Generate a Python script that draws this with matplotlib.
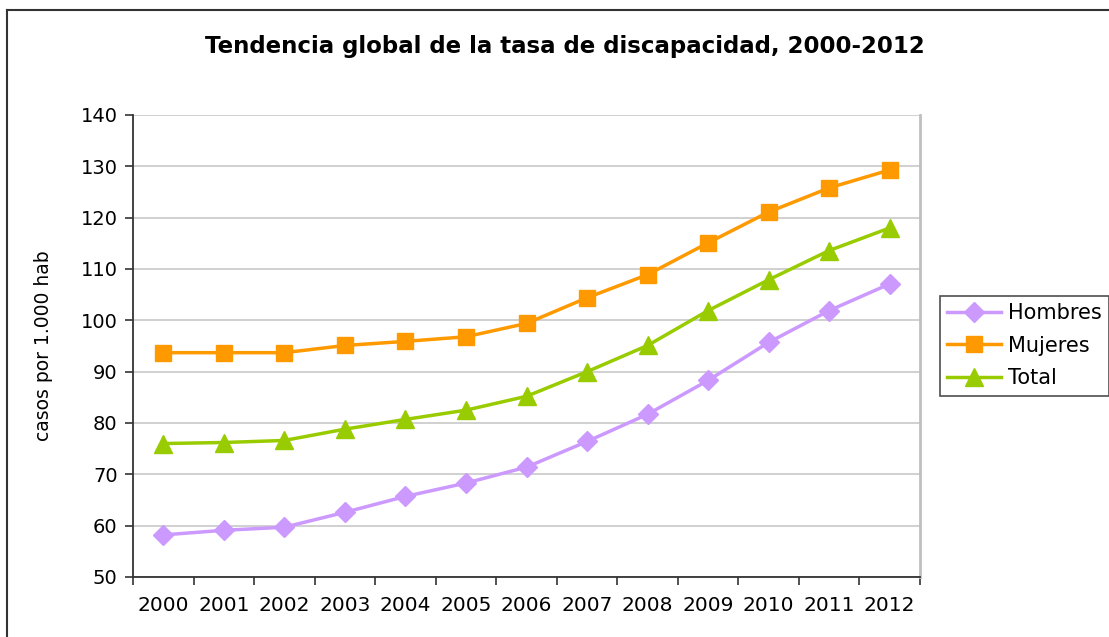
import matplotlib
matplotlib.use("Agg")
import matplotlib.pyplot as plt
from matplotlib.lines import Line2D

years = ["2000", "2001", "2002", "2003", "2004", "2005", "2006",
         "2007", "2008", "2009", "2010", "2011", "2012"]
hombres = [58.2, 59.1, 59.7, 62.6, 65.7, 68.3, 71.4, 76.4, 81.7, 88.3, 95.7, 101.9, 107.1]
mujeres = [93.7, 93.7, 93.7, 95.1, 95.9, 96.8, 99.4, 104.4, 108.9, 115.1, 121.1, 125.8, 129.3]
total = [76.0, 76.2, 76.6, 78.8, 80.7, 82.5, 85.2, 90.0, 95.1, 101.9, 107.9, 113.6, 118.0]
yticks = [50, 60, 70, 80, 90, 100, 110, 120, 130, 140]

plt.rcParams['font.family'] = ['DejaVu Sans']

W, H = 1109, 637
fig = plt.figure(figsize=(W / 100, H / 100), dpi=100)
ax = fig.add_axes([133 / W, 1 - 577 / H, (920 - 133) / W, (577 - 115) / H])

x = list(range(len(years)))
ax.plot(x, hombres, color='#cc99ff', lw=2.5, marker='D', ms=10, mec='#cc99ff', label='Hombres', zorder=3)
ax.plot(x, mujeres, color='#ff9900', lw=2.5, marker='s', ms=11, mec='#ff9900', label='Mujeres', zorder=3)
ax.plot(x, total, color='#99cc00', lw=2.5, marker='^', ms=13, mec='#99cc00', label='Total', zorder=3)

ax.set_xlim(-0.5, len(years) - 0.5)
ax.set_ylim(50, 140)
ax.set_yticks(yticks)
ax.set_yticklabels([str(v) for v in yticks], fontsize=14)
ax.set_xticks([i - 0.5 for i in range(len(years) + 1)], minor=False)
ax.set_xticklabels([])
ax.set_xticks(x, minor=True)
ax.set_xticklabels(years, minor=True, fontsize=14.5)
ax.tick_params(axis='x', which='minor', length=0, pad=14)
ax.tick_params(axis='x', which='major', length=6, direction='out', color='#333333', width=1.2)
ax.tick_params(axis='y', length=6, direction='out', color='#333333', width=1.2, pad=5)

ax.grid(axis='y', color='#c8c8c8', lw=1.2)
ax.set_axisbelow(True)
for s in ['left', 'bottom']:
    ax.spines[s].set_color('#333333')
    ax.spines[s].set_linewidth(1.3)
ax.spines['top'].set_visible(False)
ax.spines['right'].set_color('#c0c0c0')
ax.spines['right'].set_linewidth(2)

ax.set_ylabel('casos por 1.000 hab', fontsize=13.5, labelpad=20)

fig.text(565 / W, 1 - 47 / H, 'Tendencia global de la tasa de discapacidad, 2000-2012',
         ha='center', va='center', fontsize=16.5, fontweight='bold')

leg = fig.legend(loc='upper left', bbox_to_anchor=(940 / W, 1 - 296 / H), fontsize=15,
                 frameon=True, fancybox=False, edgecolor='#222222', borderpad=0.35,
                 handlelength=2.6, handletextpad=0.3, labelspacing=0.6, borderaxespad=0)
leg.get_frame().set_linewidth(1.2)

fig.add_artist(Line2D([7 / W, 7 / W], [0, 1 - 10 / H], color='#333333', lw=1.5, transform=fig.transFigure))
fig.add_artist(Line2D([7 / W, 1], [1 - 10 / H, 1 - 10 / H], color='#333333', lw=1.5, transform=fig.transFigure))

fig.savefig('out.png', dpi=100)
